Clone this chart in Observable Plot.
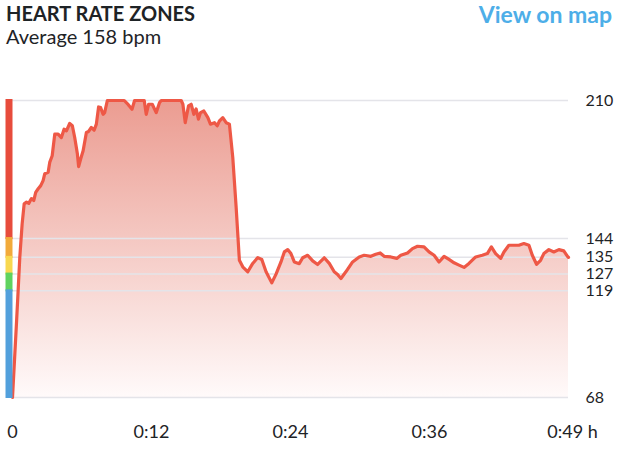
<!DOCTYPE html>
<html><head><meta charset="utf-8">
<script src="https://cdn.jsdelivr.net/npm/d3@7"></script>
<script src="https://cdn.jsdelivr.net/npm/@observablehq/plot@0.6"></script>
<style>
html,body{margin:0;padding:0;background:#fff;}
#wrap{position:relative;width:620px;height:450px;font-family:Lato,"Open Sans",sans-serif;color:#1e2326;}
.hdr{position:absolute;line-height:1;white-space:nowrap;}
#title{left:6px;top:3px;font-size:20px;font-weight:700;}
#subtitle{left:6px;top:26px;font-size:20px;font-weight:400;}
#maplink{right:8px;top:3px;font-size:23px;font-weight:700;color:#4daee8;}
#chart{position:absolute;left:0;top:60px;}
</style></head>
<body>
<div id="wrap">
  <div class="hdr" id="title">HEART RATE ZONES</div>
  <div class="hdr" id="subtitle">Average 158 bpm</div>
  <div class="hdr" id="maplink">View on map</div>
  <div id="chart"></div>
</div>
<script>
// elapsed time (minutes)
const minutes = [0,0.18,0.36,0.53,0.65,0.86,1.04,1.25,1.45,1.69,1.90,2.07,2.29,2.52,2.73,2.88,3.18,3.32,3.54,3.77,4.07,4.36,4.60,4.81,5.10,5.34,5.55,5.79,5.90,6.08,6.30,6.59,6.79,7.03,7.28,7.48,7.68,7.86,8.08,8.22,8.46,9.97,10.33,10.66,10.89,11.75,11.93,12.14,12.47,12.82,13.12,13.27,15.05,15.20,15.41,15.70,15.94,16.18,16.38,16.59,16.77,17.07,17.43,17.66,18.01,18.26,18.46,18.76,19.06,19.35,19.65,19.95,20.24,20.54,20.99,21.43,21.88,22.24,22.62,23.13,23.51,23.95,24.25,24.55,24.84,25.14,25.58,25.89,26.33,26.78,27.22,27.81,28.26,28.70,29.00,29.30,29.74,30.34,30.93,31.37,31.97,32.41,32.80,33.15,33.75,34.28,34.64,35.24,35.68,36.13,36.71,37.16,37.61,38.05,38.50,38.94,39.39,39.83,40.28,40.72,41.32,41.91,42.36,42.72,43.10,43.55,43.84,44.28,44.73,45.17,45.62,46.07,46.37,46.75,47.11,47.40,47.85,48.29,48.74,49.18,49.51,49.6];
// heart rate (bpm)
const heartRate = [68,86,104,122,135,151,160.6,161.4,160.8,163.1,162.2,166.1,167.8,169.3,171.7,175,175.7,180.4,183.6,193.9,193.9,192.3,196.3,195.5,199,197.9,192.3,184.4,178.4,182,186,194.7,195.2,197.1,195.8,198.7,206.9,206.6,203.4,204.2,210,210,208,205.8,210,210,203.4,208.2,208.2,204.2,209,210,210,208.2,199.4,207.4,208.2,203.4,206,201.1,204.2,205,201.8,198.7,199.4,197.9,200.2,201.8,199.4,198.7,182.8,159,133.6,130.5,128.1,132.1,134.9,134,128.1,122.8,127,132.8,137.6,138.7,136.8,132.8,132,134.8,136,133.3,131.6,134.8,132.1,128.1,126.8,124.9,128.1,132.8,135.2,136,135.5,136.5,137.1,135.5,135.2,134.5,136,137.1,139.2,140.3,140,137.6,136,132.8,135.5,134,132.4,131.3,130.2,132.1,135.2,136,136.8,140,136.8,134.5,137.6,140.8,140.8,140.8,141.6,140.8,136,131.7,133.6,136.8,138.7,137.6,138.7,138.1,135.5,135];

// heart rate zones
const zoneLow = [144,135,127,119,68];
const zoneHigh = [210,144,135,127,119];
const zoneColors = ["#e74c3c","#f2aa3a","#f8d84f","#5fd35f","#52a0dc"];

// axis ticks
const yTicks = [210,144,135,127,119,68];
const xTicks = [0,12.4,24.8,37.2,49.6];
const xTickLabels = ["0","0:12","0:24","0:36","0:49 h"];

const series = minutes.map((t,i) => ({t, v: heartRate[i]}));
const zones = zoneLow.map((lo,i) => ({lo, hi: zoneHigh[i], color: zoneColors[i]}));
const xLabels = xTicks.map((x,i) => ({x, label: xTickLabels[i]}));
const yMin = d3.min(yTicks), yMax = d3.max(yTicks);

const gradientDefs = () => {
  const defs = d3.create("svg:defs");
  const g = defs.append("linearGradient").attr("id","hrFill")
    .attr("x1",0).attr("x2",0).attr("y1",0).attr("y2",1);
  g.append("stop").attr("offset","0%").attr("stop-color","#eb9c91");
  g.append("stop").attr("offset","100%").attr("stop-color","#fffafa");
  return defs.node();
};

const chart = Plot.plot({
  width: 620,
  height: 390,
  marginTop: 40,
  marginBottom: 53,
  marginLeft: 12,
  marginRight: 52,
  style: {fontFamily: "Lato, 'Open Sans', sans-serif", fontSize: "16px", color: "#1e2326", background: "transparent"},
  x: {domain: [0, 49.6], axis: null},
  y: {domain: [yMin, yMax], axis: null},
  marks: [
    gradientDefs,
    Plot.areaY(series, {x: "t", y1: () => yMin, y2: "v", fill: "url(#hrFill)", curve: "linear"}),
    Plot.ruleY(yTicks, {stroke: "#e4e4e9", strokeWidth: 1.5}),
    Plot.lineY(series, {x: "t", y: "v", stroke: "#ee5846", strokeWidth: 3.2, strokeLinejoin: "round", curve: "linear"}),
    Plot.ruleX(zones, {x: () => 0, y1: "lo", y2: "hi", stroke: "color", strokeWidth: 7, dx: -3.5, insetTop: 1, insetBottom: 1}),
    Plot.axisY(yTicks, {anchor: "right", tickSize: 0, tickPadding: 17, textAnchor: "start", fontSize: 16, fill: "#1e2326", label: null}),
    Plot.text(xLabels.slice(0,4), {x: "x", text: "label", frameAnchor: "bottom", dy: 40, fontSize: 18, fill: "#1e2326"}),
    Plot.text(xLabels.slice(4), {x: "x", text: "label", frameAnchor: "bottom", dy: 40, dx: 4, fontSize: 18, fill: "#1e2326"})
  ]
});
document.getElementById("chart").appendChild(chart);
</script>
</body></html>
